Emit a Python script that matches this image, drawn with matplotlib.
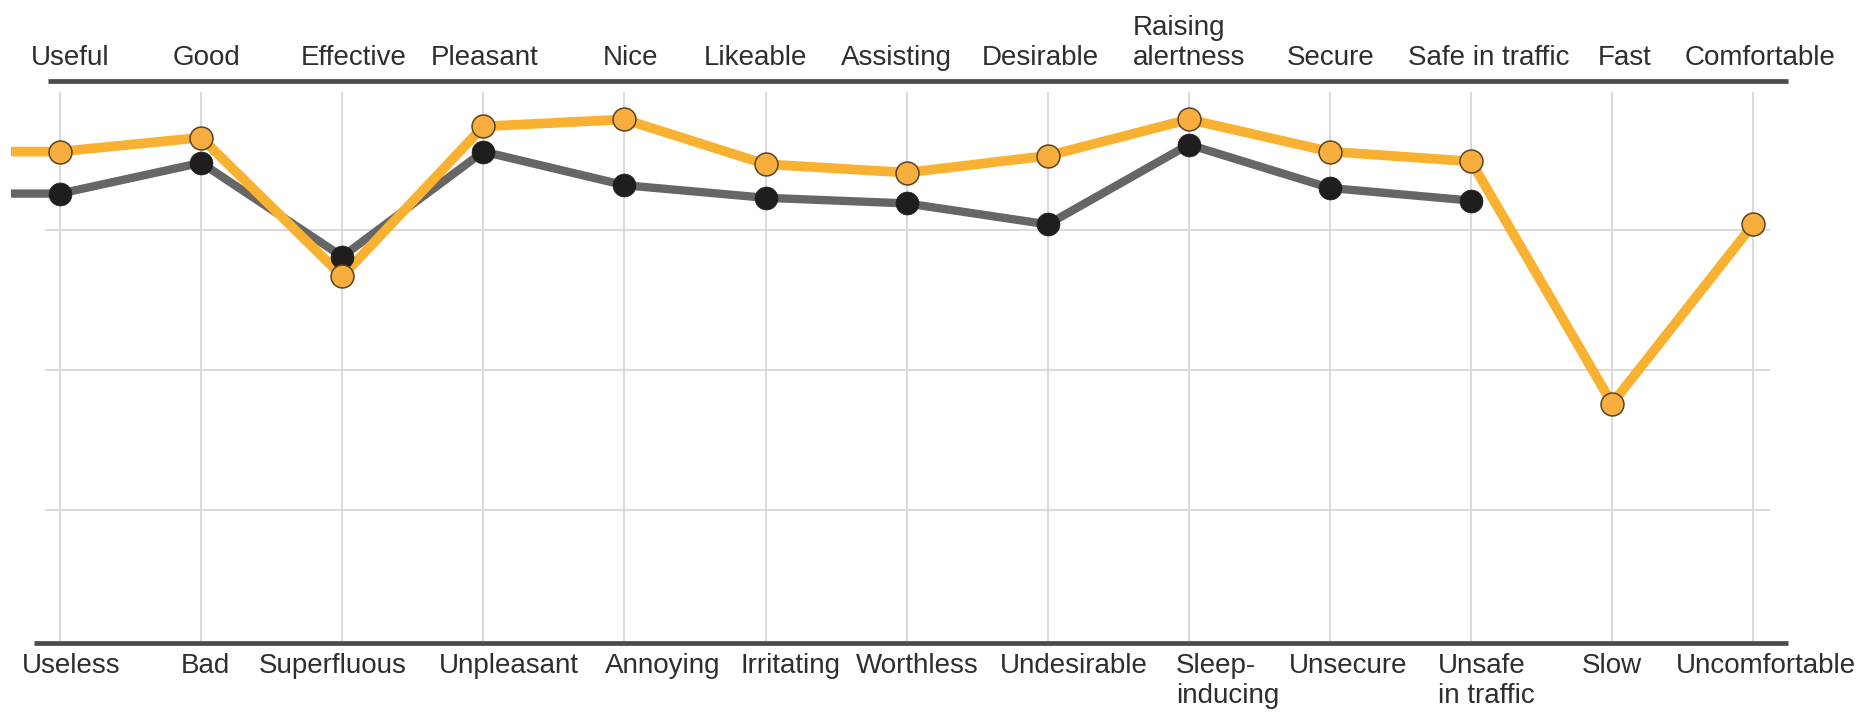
import matplotlib
matplotlib.use("Agg")
import matplotlib.pyplot as plt
import numpy as np

plt.rcParams['font.family'] = ['Liberation Sans', 'DejaVu Sans']

# Semantic differential: positive pole on top, negative pole at the bottom
top_labels = ["Useful", "Good", "Effective", "Pleasant", "Nice", "Likeable", "Assisting",
              "Desirable", "Raising\nalertness", "Secure", "Safe in traffic", "Fast", "Comfortable"]
bottom_labels = ["Useless", "Bad", "Superfluous", "Unpleasant", "Annoying", "Irritating", "Worthless",
                 "Undesirable", "Sleep-\ninducing", "Unsecure", "Unsafe\nin traffic", "Slow", "Uncomfortable"]

# mean ratings
orange_vals = [1.56, 1.66, 0.67, 1.74, 1.79, 1.47, 1.41, 1.53, 1.79, 1.56, 1.49, -0.24, 1.04]
gray_vals = [1.26, 1.48, 0.81, 1.56, 1.32, 1.23, 1.19, 1.04, 1.61, 1.30, 1.21, np.nan, np.nan]

# layout: small horizontal nudges of the labels, in pixels
top_dx = [10, 5, 11, 1, 6, -10, -10, -7, 0, 1, 18, 13, 7]
bottom_dx = [11, 4, -9, 26, 38, 25, 11, 26, 39, 18, 15, 0, 13]

W, H = 1876, 719
x0_px, step_px = 60, 141.1      # pixel position of first category, spacing
y0_px, unit_px = 370, 140       # pixel position of value 0, pixels per unit

fig = plt.figure(figsize=(W / 100, H / 100), dpi=100)
ax = fig.add_axes([0, 0, 1, 1])
ax.set_xlim(-x0_px / step_px, (W - x0_px) / step_px)
ax.set_ylim((y0_px - H) / unit_px, y0_px / unit_px)
ax.axis('off')

def px_x(p):
    return (p - x0_px) / step_px

def px_y(p):
    return (y0_px - p) / unit_px

x = np.arange(len(top_labels))
text_col = '#2e2e2e'

# grid
ax.hlines([-1, 0, 1], px_x(45), px_x(1770), color='#d9d9d9', lw=1.4, zorder=0)
ax.vlines(x, px_y(643), px_y(92), color='#d9d9d9', lw=1.4, zorder=0)

# pole lines
ax.hlines(px_y(81), px_x(48), px_x(1788), color='#4a4a4a', lw=3.4, zorder=1)
ax.hlines(px_y(643), px_x(34), px_x(1788), color='#4a4a4a', lw=3.4, zorder=1)

# series lines, with the lead-in from the left edge
lead = px_x(11)
ax.plot(np.r_[lead, x], np.r_[gray_vals[0], gray_vals], color='#666666', lw=6,
        solid_capstyle='butt', solid_joinstyle='miter', zorder=2)
ax.plot(np.r_[lead, x], np.r_[orange_vals[0], orange_vals], color='#F9B132', lw=7,
        solid_capstyle='butt', solid_joinstyle='miter', zorder=3)
ax.plot(x, gray_vals, 'o', color='#1f1d1e', ms=16.5, mec='#1f1d1e', mew=0.5, zorder=4)
ax.plot(x, orange_vals, 'o', color='#F7AE3E', ms=16.5, mec='#5a4322', mew=1.1, zorder=5)

for i in x:
    ax.text(i + top_dx[i] / step_px, px_y(65), top_labels[i], ha='center', va='baseline',
            multialignment='left', fontsize=20, color=text_col, linespacing=1.2)
    ax.text(i + bottom_dx[i] / step_px, px_y(653), bottom_labels[i], ha='center', va='top',
            multialignment='left', fontsize=20, color=text_col, linespacing=1.2)

fig.savefig('out.png', dpi=100, facecolor='white')
